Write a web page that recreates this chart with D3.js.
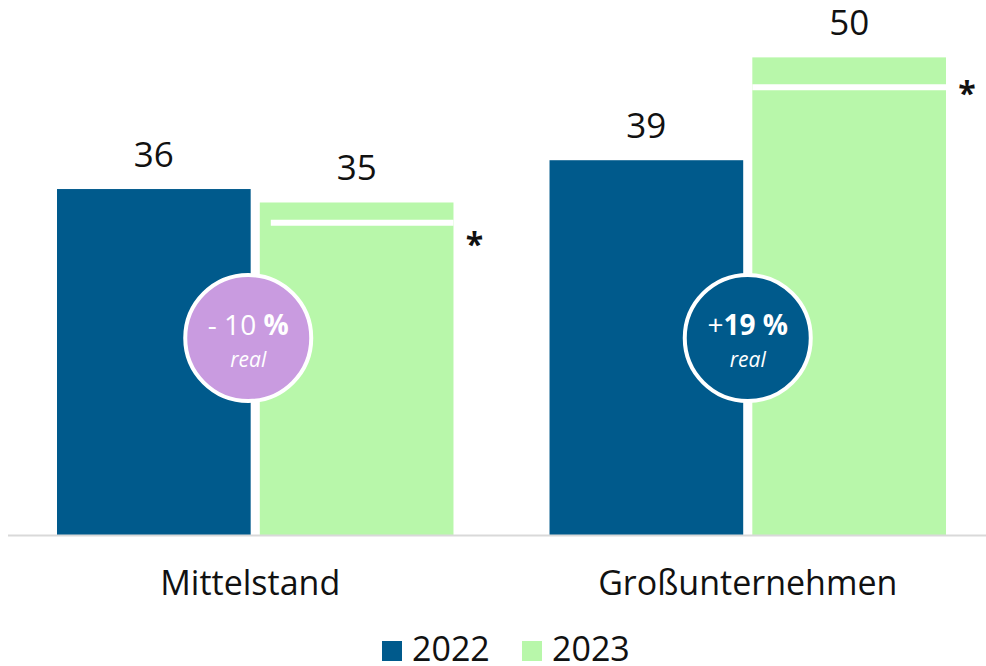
<!DOCTYPE html>
<html>
<head>
<meta charset="utf-8">
<script src="https://cdn.jsdelivr.net/npm/d3@7"></script>
<style>
  html, body { margin: 0; padding: 0; background: #fff; }
  text { font-family: "Open Sans", sans-serif; }
</style>
</head>
<body>
<div id="chart"></div>
<script>
const categories = ["Mittelstand", "Großunternehmen"];
const years = ["2022", "2023"];
const values2022 = [36.0, 39.0];
const values2023 = [34.6, 49.7];
const realValues2023 = [32.5, 46.6]; // white marker line inside the 2023 bar
const badgeLabels = [
    [{t: "- 10 ", bold: false}, {t: "%", bold: true}],
    [{t: "+", bold: false}, {t: "19 %", bold: true}]
];
const badgeSub = ["real", "real"];
const colors = {"2022": "#005a8c", "2023": "#b8f7aa"};
const badgeColors = ["#c99be0", "#005a8c"];

function main() {
    const width = 986;
    const height = 666;
    const baseline = 535;

    const data = categories.map((c, i) => ({
        name: c,
        bars: [
            {year: "2022", value: values2022[i]},
            {year: "2023", value: values2023[i]}
        ],
        real: realValues2023[i]
    }));

    const x0 = d3.scaleBand()
        .domain(categories)
        .range([57, 946])
        .paddingInner(0.195)
        .paddingOuter(0);

    const x1 = d3.scaleBand()
        .domain(years)
        .range([0, x0.bandwidth()])
        .paddingInner(0.045);

    const y = d3.scaleLinear()
        .domain([0, 50])
        .range([baseline, 54.5]);

    const svg = d3.create("svg")
        .attr("width", width)
        .attr("height", height);

    const groups = svg.selectAll("g.group")
        .data(data)
        .join("g")
        .attr("class", "group")
        .attr("transform", d => `translate(${x0(d.name)},0)`);

    // bars
    groups.selectAll("rect")
        .data(d => d.bars)
        .join("rect")
        .attr("x", d => x1(d.year))
        .attr("y", d => y(d.value))
        .attr("width", x1.bandwidth())
        .attr("height", d => y(0) - y(d.value))
        .attr("fill", d => colors[d.year]);

    // value labels
    const fmt = d3.format(".0f");
    groups.selectAll("text.val")
        .data(d => d.bars)
        .join("text")
        .attr("class", "val")
        .attr("x", d => x1(d.year) + x1.bandwidth() / 2)
        .attr("y", d => y(d.value) - 22)
        .attr("text-anchor", "middle")
        .style("font-size", "35px")
        .attr("fill", "#111")
        .text(d => fmt(d.value));

    // white "real" line in the 2023 bar
    groups.append("line")
        .attr("x1", (d, i) => x1("2023") + (i === 0 ? 11 : 0))
        .attr("x2", x1("2023") + x1.bandwidth())
        .attr("y1", d => y(d.real))
        .attr("y2", d => y(d.real))
        .attr("stroke", "#fff")
        .attr("stroke-width", 6);

    // asterisk
    groups.append("text")
        .attr("x", x1("2023") + x1.bandwidth() + 21)
        .attr("y", (d, i) => y(d.real) + (i === 0 ? 33 : 18))
        .attr("text-anchor", "middle")
        .style("font-size", "32px")
        .style("font-weight", "700")
        .attr("fill", "#111")
        .text("*");

    // baseline
    svg.append("line")
        .attr("x1", 8)
        .attr("x2", width)
        .attr("y1", baseline + 0.5)
        .attr("y2", baseline + 0.5)
        .attr("stroke", "#d9d9d9")
        .attr("stroke-width", 2);

    // badges
    const cyBadge = y(20.5);
    const badge = groups.append("g")
        .attr("transform", (d, i) => `translate(${x0.bandwidth() / 2 + (i === 0 ? -7 : 0)},${cyBadge})`);
    badge.append("circle")
        .attr("r", 63)
        .attr("fill", (d, i) => badgeColors[i])
        .attr("stroke", "#fff")
        .attr("stroke-width", 4);
    badge.append("text")
        .attr("y", -3)
        .attr("text-anchor", "middle")
        .attr("fill", "#fff")
        .style("font-size", "28px")
        .selectAll("tspan")
        .data((d, i) => badgeLabels[i])
        .join("tspan")
        .style("font-weight", p => p.bold ? "700" : "400")
        .text(p => p.t);
    badge.append("text")
        .attr("y", 29)
        .attr("text-anchor", "middle")
        .attr("fill", "#fff")
        .style("font-size", "21px")
        .style("font-style", "italic")
        .text((d, i) => badgeSub[i]);

    // category labels
    svg.append("g")
        .selectAll("text")
        .data(categories)
        .join("text")
        .attr("x", (d, i) => x0(d) + x0.bandwidth() / 2 + (i === 0 ? -5 : 0))
        .attr("y", 595)
        .attr("text-anchor", "middle")
        .style("font-size", "34px")
        .attr("fill", "#111")
        .text(d => d);

    // legend
    const legendX = [382, 522];
    const legend = svg.append("g")
        .selectAll("g")
        .data(years)
        .join("g")
        .attr("transform", (d, i) => `translate(${legendX[i]},641)`);
    legend.append("rect")
        .attr("width", 20)
        .attr("height", 20)
        .attr("fill", d => colors[d]);
    legend.append("text")
        .attr("x", 30)
        .attr("y", 20)
        .style("font-size", "34px")
        .attr("fill", "#111")
        .text(d => d);

    document.getElementById("chart").append(svg.node());
}

main();
</script>
</body>
</html>
